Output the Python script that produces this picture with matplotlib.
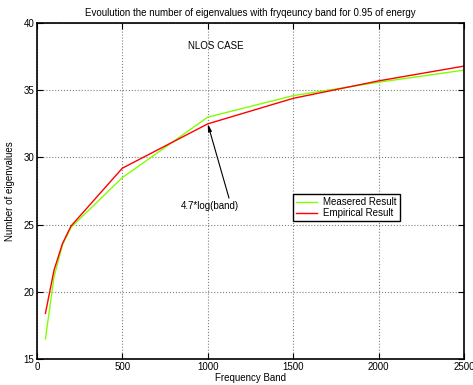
import matplotlib
matplotlib.use('Agg')
from matplotlib import pyplot as plt

plt.rcParams['font.family'] = ['Liberation Sans', 'DejaVu Sans']

band = [50, 100, 150, 200, 500, 1000, 1500, 2000, 2500]
measured = [16.5, 21.1, 23.5, 24.8, 28.5, 33.0, 34.6, 35.6, 36.5]
empirical = [18.4, 21.6, 23.6, 24.9, 29.2, 32.5, 34.4, 35.7, 36.8]
xticks = [0, 500, 1000, 1500, 2000, 2500]
yticks = [15, 20, 25, 30, 35, 40]

fig = plt.figure(figsize=(4.73, 3.85), dpi=100)
ax = fig.add_axes([0.078, 0.0675, 0.903, 0.8725])

ax.plot(band, measured, color='#80ff00', lw=1.0, label='Measered Result')
ax.plot(band, empirical, color='#ff0000', lw=1.0, label='Empirical Result')

ax.set_xlim(0, 2500)
ax.set_ylim(15, 40)
ax.set_xticks(xticks)
ax.set_yticks(yticks)
ax.tick_params(direction='in', top=True, right=True, labelsize=7, length=4, pad=2)
ax.grid(True, linestyle=':', color='gray', lw=0.8)
for s in ax.spines.values():
    s.set_linewidth(1.2)

ax.set_title('Evoulution the number of eigenvalues with fryqeuncy band for 0.95 of energy',
             fontsize=7, pad=5)
ax.set_xlabel('Frequency Band', fontsize=7, labelpad=1)
ax.set_ylabel('Number of eigenvalues', fontsize=7, labelpad=6)

ax.text(1045, 38.3, 'NLOS CASE', fontsize=7, ha='center', va='center')
ax.annotate('4.7*log(band)', xy=(1000, 32.5), xytext=(1010, 26.4),
            fontsize=7, ha='center', va='center',
            arrowprops=dict(arrowstyle='-|>,head_length=0.6,head_width=0.15',
                            color='black', lw=0.8,
                            shrinkA=0, shrinkB=0, relpos=(0.85, 1.0)))

leg = ax.legend(loc='upper left', bbox_to_anchor=(0.6, 0.491), fontsize=7,
                fancybox=False, framealpha=1, edgecolor='black',
                handlelength=2.2, borderpad=0.3, labelspacing=0.1,
                handletextpad=0.6, borderaxespad=0)
leg.get_frame().set_linewidth(1.0)

fig.savefig('out.png', dpi=100)
